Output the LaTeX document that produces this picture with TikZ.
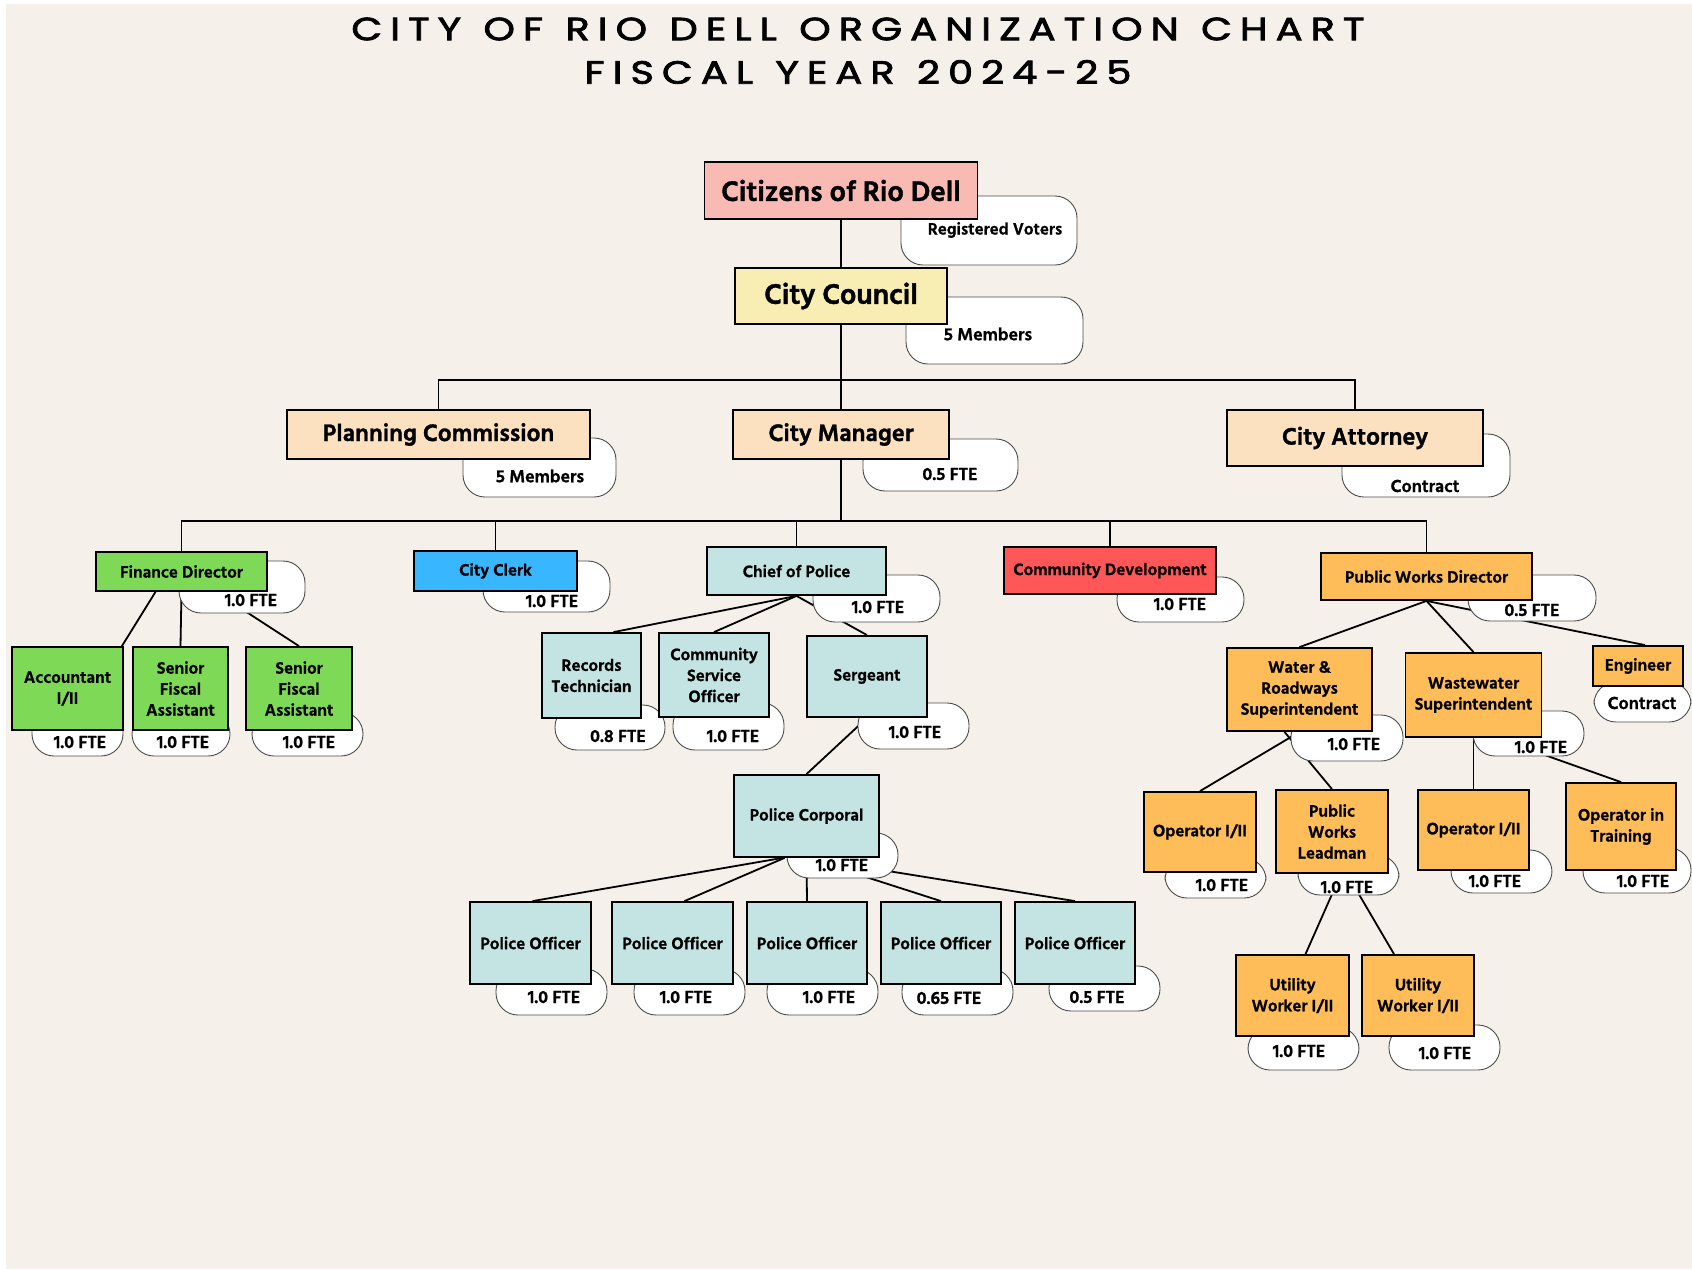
\documentclass[tikz,border=0pt]{standalone}
\usepackage{fontspec}
\setmainfont{Hind Siliguri}[BoldFeatures={FakeBold=1.2}]
\newfontfamily\titlefont[LetterSpace=25,WordSpace=1.2,FakeStretch=1.25,FakeBold=2.5]{Poppins}

\definecolor{paper}{HTML}{F5F0EA}
\definecolor{citizenpink}{HTML}{F8BAB3}
\definecolor{counciltan}{HTML}{F8EDB2}
\definecolor{peach}{HTML}{FCE1C0}
\definecolor{fingreen}{HTML}{7ED957}
\definecolor{clerkblue}{HTML}{38B6FF}
\definecolor{policeteal}{HTML}{C3E4E2}
\definecolor{cdred}{HTML}{FF5757}
\definecolor{pworange}{HTML}{FFBD59}

\pgfdeclarelayer{back}
\pgfsetlayers{back,main}

\begin{document}
\begin{tikzpicture}[x=1pt,y=-1pt,
        box/.style={draw=black,line width=1.8pt,align=center,inner sep=2pt,
            font=\bfseries\fontsize{17}{21}\selectfont},
        topbox/.style={box,font=\bfseries\fontsize{29}{32}\selectfont},
        midbox/.style={box,font=\bfseries\fontsize{24.5}{28}\selectfont},
        pill/.style={draw=black!70,fill=white,line width=0.9pt,rounded corners=22pt},
        fte/.style={font=\bfseries\fontsize{18}{20}\selectfont},
        link/.style={line width=1.8pt},
        heading/.style={font=\titlefont\fontsize{32}{36}\selectfont}]

    \useasboundingbox (0,0) rectangle (1692,1269);
    \begin{pgfonlayer}{back}
        \fill[white] (0,0) rectangle (1692,1269);
        \fill[paper] (6,4) rectangle (1692,1269);
    \end{pgfonlayer}

    \node[heading] (title1) at (858,29) {CITY OF RIO DELL ORGANIZATION CHART};
    \node[heading] (title2) at (858,72) {FISCAL YEAR 2024-25};

    % tags behind the boxes
    \draw[pill] (901,196) rectangle (1077,265);
    \draw[pill] (906,297) rectangle (1083,364);
    \draw[pill] (463,438) rectangle (616,497);
    \draw[pill] (863,439) rectangle (1018,491);
    \draw[pill] (1342,434) rectangle (1510,497);
    \draw[pill] (179,561) rectangle (305,613);
    \draw[pill] (32,705) rectangle (123,756);
    \draw[pill] (132,712) rectangle (230,756);
    \draw[pill] (252,712) rectangle (363,756);
    \draw[pill] (483,561) rectangle (610,612);
    \draw[pill] (813,575) rectangle (940,622);
    \draw[pill] (555,705) rectangle (665,750);
    \draw[pill] (673,703) rectangle (784,750);
    \draw[pill] (858,703) rectangle (969,749);
    \draw[pill] (787,833) rectangle (898,878);
    \draw[pill] (496,969) rectangle (607,1015);
    \draw[pill] (634,969) rectangle (745,1015);
    \draw[pill] (767,969) rectangle (878,1015);
    \draw[pill] (902,969) rectangle (1013,1015);
    \draw[pill] (1049,966) rectangle (1160,1011);
    \draw[pill] (1117,577) rectangle (1244,622);
    \draw[pill] (1468,575) rectangle (1596,621);
    \draw[pill] (1291,715) rectangle (1403,761);
    \draw[pill] (1473,711) rectangle (1584,756);
    \draw[pill] (1594,682) rectangle (1691,722);
    \draw[pill] (1165,858) rectangle (1266,898);
    \draw[pill] (1298,855) rectangle (1399,895);
    \draw[pill] (1451,850) rectangle (1552,893);
    \draw[pill] (1583,848) rectangle (1691,893);
    \draw[pill] (1248,1027) rectangle (1359,1070);
    \draw[pill] (1389,1025) rectangle (1500,1070);

    \node[fte,font=\bfseries\fontsize{17}{20}\selectfont] (cit-t) at (995,230) {Registered Voters};
    \node[fte] (council-t) at (988,334) {5 Members};
    \node[fte] (plan-t) at (540,476) {5 Members};
    \node[fte] (mgr-t) at (950,474) {0.5 FTE};
    \node[fte] (atty-t) at (1425,486) {Contract};
    \node[fte] (fin-t) at (251,600) {1.0 FTE};
    \node[fte] (acct-t) at (80,742) {1.0 FTE};
    \node[fte] (sfa1-t) at (183,742) {1.0 FTE};
    \node[fte] (sfa2-t) at (309,742) {1.0 FTE};
    \node[fte] (clerk-t) at (552,601) {1.0 FTE};
    \node[fte] (chief-t) at (878,607) {1.0 FTE};
    \node[fte] (rec-t) at (618,736) {0.8 FTE};
    \node[fte] (cso-t) at (733,736) {1.0 FTE};
    \node[fte] (sgt-t) at (915,732) {1.0 FTE};
    \node[fte] (corp-t) at (842,865) {1.0 FTE};
    \node[fte] (po1-t) at (554,997) {1.0 FTE};
    \node[fte] (po2-t) at (686,997) {1.0 FTE};
    \node[fte] (po3-t) at (829,997) {1.0 FTE};
    \node[fte] (po4-t) at (949,998) {0.65 FTE};
    \node[fte] (po5-t) at (1097,997) {0.5 FTE};
    \node[fte] (cd-t) at (1180,604) {1.0 FTE};
    \node[fte] (pwd-t) at (1532,610) {0.5 FTE};
    \node[fte] (water-t) at (1354,744) {1.0 FTE};
    \node[fte] (ww-t) at (1541,747) {1.0 FTE};
    \node[fte] (eng-t) at (1642,703) {Contract};
    \node[fte] (op1-t) at (1222,885) {1.0 FTE};
    \node[fte] (lead-t) at (1347,887) {1.0 FTE};
    \node[fte] (op2-t) at (1495,881) {1.0 FTE};
    \node[fte] (oit-t) at (1643,881) {1.0 FTE};
    \node[fte] (uw1-t) at (1299,1051) {1.0 FTE};
    \node[fte] (uw2-t) at (1445,1053) {1.0 FTE};

    % boxes
    \node[topbox,fill=citizenpink,minimum width=273,minimum height=57] (cit) at (841,190.5) {Citizens of Rio Dell};
    \node[topbox,fill=counciltan,minimum width=212,minimum height=56] (council) at (841,296) {City Council};
    \node[midbox,fill=peach,minimum width=303,minimum height=49] (plan) at (438.5,434.5) {Planning Commission};
    \node[midbox,fill=peach,minimum width=216,minimum height=49] (mgr) at (841,434.5) {City Manager};
    \node[midbox,fill=peach,minimum width=256,minimum height=56] (atty) at (1355,438) {City Attorney};

    \node[box,fill=fingreen,minimum width=171,minimum height=39] (fin) at (181.5,571.5) {Finance Director};
    \node[box,fill=fingreen,minimum width=111,minimum height=83] (acct) at (67.5,688.5) {Accountant\\I/II};
    \node[box,fill=fingreen,minimum width=95,minimum height=83] (sfa1) at (180.5,688.5) {Senior\\Fiscal\\Assistant};
    \node[box,fill=fingreen,minimum width=106,minimum height=83] (sfa2) at (299,688.5) {Senior\\Fiscal\\Assistant};

    \node[box,fill=clerkblue,minimum width=163,minimum height=40] (clerk) at (495.5,571) {City Clerk};

    \node[box,fill=policeteal,minimum width=179,minimum height=48] (chief) at (796.5,571) {Chief of Police};
    \node[box,fill=policeteal,minimum width=99,minimum height=85] (rec) at (591.5,675.5) {Records\\Technician};
    \node[box,fill=policeteal,minimum width=110,minimum height=84] (cso) at (714,675) {Community\\Service\\Officer};
    \node[box,fill=policeteal,minimum width=120,minimum height=81] (sgt) at (867,676.5) {Sergeant};
    \node[box,fill=policeteal,minimum width=145,minimum height=82] (corp) at (806.5,816) {Police Corporal};
    \node[box,fill=policeteal,minimum width=121,minimum height=82] (po1) at (530.5,943) {Police Officer};
    \node[box,fill=policeteal,minimum width=121,minimum height=82] (po2) at (672.5,943) {Police Officer};
    \node[box,fill=policeteal,minimum width=120,minimum height=82] (po3) at (807,943) {Police Officer};
    \node[box,fill=policeteal,minimum width=120,minimum height=82] (po4) at (941,943) {Police Officer};
    \node[box,fill=policeteal,minimum width=120,minimum height=82] (po5) at (1075,943) {Police Officer};

    \node[box,fill=cdred,minimum width=212,minimum height=47] (cd) at (1110,570.5) {Community Development};

    \node[box,fill=pworange,minimum width=211,minimum height=47] (pwd) at (1426.5,576.5) {Public Works Director};
    \node[box,fill=pworange,minimum width=145,minimum height=83] (water) at (1299.5,689.5) {Water \&\\Roadways\\Superintendent};
    \node[box,fill=pworange,minimum width=136,minimum height=84] (ww) at (1473.5,695) {Wastewater\\Superintendent};
    \node[box,fill=pworange,minimum width=90,minimum height=40] (eng) at (1638,666) {Engineer};
    \node[box,fill=pworange,minimum width=112,minimum height=80] (op1) at (1200,832) {Operator I/II};
    \node[box,fill=pworange,minimum width=112,minimum height=83] (lead) at (1332,831.5) {Public\\Works\\Leadman};
    \node[box,fill=pworange,minimum width=111,minimum height=80] (op2) at (1473.5,830) {Operator I/II};
    \node[box,fill=pworange,minimum width=110,minimum height=87] (oit) at (1621,826.5) {Operator in\\Training};
    \node[box,fill=pworange,minimum width=113,minimum height=81] (uw1) at (1292.5,995.5) {Utility\\Worker I/II};
    \node[box,fill=pworange,minimum width=112,minimum height=81] (uw2) at (1418,995.5) {Utility\\Worker I/II};

    \coordinate (bus1) at (841,380);
    \coordinate (bus2) at (841,521);

    % connectors under everything
    \begin{pgfonlayer}{back}
        \draw[link] (cit) -- (council);
        \draw[link] (council) -- (bus1) -- (mgr);
        \draw[link] (plan.north) |- (bus1) -| (atty.north);
        \draw[link] (mgr) -- (bus2);
        \draw[link] (fin.north) |- (bus2) -| (pwd.north);
        \foreach \n in {clerk,chief,cd}
            \draw[link] (\n.north) -- (\n.north |- bus2);

        \draw[link] ([xshift=-26pt]fin.south) -- ([xshift=-2pt]acct.north east);
        \draw[link] (fin.south) -- (sfa1.north);
        \draw[link] ([xshift=34pt]fin.south) -- (sfa2.north);

        \draw[link] (chief.south) -- ([xshift=22pt]rec.north);
        \draw[link] (chief.south) -- (cso.north);
        \draw[link] (chief.south) -- (sgt.north);
        \draw[link] (sgt.south) -- (corp.north);
        \draw[link] ([xshift=-24pt]corp.south) -- ([xshift=2pt]po1.north);
        \draw[link] ([xshift=-22pt]corp.south) -- ([xshift=12pt]po2.north);
        \foreach \n in {po3,po4,po5}
            \draw[link] (corp.south) -- (\n.north);

        \draw[link] (pwd.south) -- (water.north);
        \draw[link] (pwd.south) -- (ww.north);
        \draw[link] (pwd.south) -- ([xshift=7pt]eng.north);
        \draw[link] (water.south) -- (op1.north);
        \draw[link] ([xshift=-15pt]water.south) -- (lead.north);
        \draw[link] (ww.south) -- (op2.north);
        \draw[link] ([xshift=23pt]ww.south) -- (oit.north);
        \draw[link] ([xshift=9pt]lead.south) -- ([xshift=13pt]uw1.north);
        \draw[link] ([xshift=15pt]lead.south) -- ([xshift=-24pt]uw2.north);
    \end{pgfonlayer}
\end{tikzpicture}
\end{document}
